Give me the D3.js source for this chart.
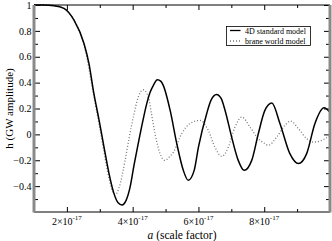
<!DOCTYPE html>
<meta charset="utf-8">
<style>
body { margin: 0; background: #fff; }
svg { display: block; font-family: "Liberation Serif", "DejaVu Serif", serif; }
.tick line { stroke: #000; }
</style>
<svg width="332" height="241"></svg>
<script src="https://cdn.jsdelivr.net/npm/d3@7"></script>
<script>
// 4D standard model (solid)
var aStd = [1.00e-17, 1.30e-17, 1.61e-17, 1.91e-17, 2.22e-17, 2.52e-17, 2.67e-17, 2.82e-17, 2.98e-17,
  3.13e-17, 3.28e-17, 3.43e-17, 3.55e-17, 3.68e-17, 3.80e-17, 3.92e-17, 4.04e-17, 4.17e-17, 4.30e-17,
  4.43e-17, 4.53e-17, 4.63e-17, 4.75e-17, 4.86e-17, 4.93e-17, 5.14e-17, 5.34e-17, 5.54e-17, 5.69e-17,
  5.87e-17, 6.00e-17, 6.25e-17, 6.38e-17, 6.55e-17, 6.69e-17, 6.81e-17, 7.01e-17, 7.21e-17, 7.39e-17,
  7.62e-17, 7.82e-17, 8.02e-17, 8.23e-17, 8.48e-17, 8.78e-17, 9.04e-17, 9.29e-17, 9.54e-17, 9.82e-17, 1.00e-16];
var hStd = [1.0, 1.0, 0.995, 0.974, 0.881, 0.703, 0.549, 0.317, 0.108,
  -0.100, -0.301, -0.456, -0.526, -0.545, -0.51, -0.410, -0.24, -0.070, 0.093,
  0.240, 0.325, 0.379, 0.423, 0.41, 0.379, 0.185, -0.070, -0.278, -0.355,
  -0.278, -0.098, 0.160, 0.263, 0.309, 0.278, 0.185, -0.021, -0.201, -0.278,
  -0.201, 0.005, 0.185, 0.242, 0.083, -0.149, -0.226, -0.149, 0.083, 0.206, 0.170];

// brane world model (dotted)
var aBrane = [1.00e-17, 1.30e-17, 1.61e-17, 1.91e-17, 2.22e-17, 2.52e-17, 2.82e-17, 2.98e-17, 3.13e-17,
  3.28e-17, 3.40e-17, 3.48e-17, 3.58e-17, 3.77e-17, 3.89e-17, 4.02e-17, 4.17e-17, 4.32e-17, 4.48e-17,
  4.57e-17, 4.68e-17, 4.83e-17, 4.98e-17, 5.10e-17, 5.24e-17, 5.49e-17, 5.74e-17, 6.05e-17, 6.30e-17,
  6.50e-17, 6.71e-17, 6.91e-17, 7.11e-17, 7.32e-17, 7.57e-17, 7.82e-17, 8.02e-17, 8.12e-17, 8.38e-17,
  8.63e-17, 8.80e-17, 9.04e-17, 9.29e-17, 9.49e-17, 9.75e-17, 1.00e-16];
var hBrane = [1.0, 1.0, 0.995, 0.974, 0.881, 0.695, 0.294, 0.077, -0.139,
  -0.340, -0.448, -0.464, -0.417, -0.201, -0.031, 0.134, 0.288, 0.345, 0.288,
  0.162, 0.005, -0.147, -0.201, -0.178, -0.137, 0.005, 0.083, 0.108, 0.031,
  -0.098, -0.170, -0.098, 0.056, 0.134, 0.056, -0.033, -0.072, -0.085, -0.021,
  0.070, 0.103, 0.044, -0.033, -0.060, -0.046, -0.008];

var xMajor = [2e-17, 4e-17, 6e-17, 8e-17];
var xLabels = ["2", "4", "6", "8"];
var xMinor = [3e-17, 5e-17, 7e-17, 9e-17];
var yMajor = [-0.4, -0.2, 0, 0.2, 0.4, 0.6, 0.8, 1];
var yMinor = [-0.5, -0.3, -0.1, 0.1, 0.3, 0.5, 0.7, 0.9];
var seriesNames = ["4D standard model", "brane world model"];

var svg = d3.select("svg");
var L = 34, R = 330, T = 5, B = 212;

var x = d3.scaleLinear().domain([1e-17, 1e-16]).range([L, R]);
var y = d3.scaleLinear().domain([-0.6, 1]).range([B, T]);

// ticks, inward on all four sides
function axes(g, axis) { g.call(axis).call(function(s){ s.select(".domain").remove(); }); }

svg.append("g").attr("transform", "translate(0," + B + ")")
  .call(function(g){ axes(g, d3.axisBottom(x).tickValues(xMajor).tickSize(-5).tickFormat("")); });
svg.append("g").attr("transform", "translate(0," + B + ")")
  .call(function(g){ axes(g, d3.axisBottom(x).tickValues(xMinor).tickSize(-3).tickFormat("")); });
svg.append("g").attr("transform", "translate(0," + T + ")")
  .call(function(g){ axes(g, d3.axisTop(x).tickValues(xMajor).tickSize(-5).tickFormat("")); });
svg.append("g").attr("transform", "translate(0," + T + ")")
  .call(function(g){ axes(g, d3.axisTop(x).tickValues(xMinor).tickSize(-3).tickFormat("")); });

svg.append("g").attr("transform", "translate(" + L + ",0)")
  .call(function(g){ axes(g, d3.axisLeft(y).tickValues(yMajor).tickSize(-6).tickPadding(2.5)
    .tickFormat(function(d){ return d3.format("")(+d.toFixed(1)); })); })
  .selectAll("text").attr("font-size", 10).attr("font-family", "Liberation Serif").attr("fill", "#000");
svg.append("g").attr("transform", "translate(" + L + ",0)")
  .call(function(g){ axes(g, d3.axisLeft(y).tickValues(yMinor).tickSize(-4).tickFormat("")); });
svg.append("g").attr("transform", "translate(" + R + ",0)")
  .call(function(g){ axes(g, d3.axisRight(y).tickValues(yMajor).tickSize(-6).tickFormat("")); });
svg.append("g").attr("transform", "translate(" + R + ",0)")
  .call(function(g){ axes(g, d3.axisRight(y).tickValues(yMinor).tickSize(-4).tickFormat("")); });

// x tick labels with powers of ten
var xl = svg.append("g").selectAll("text").data(xMajor).enter().append("text")
  .attr("x", function(d){ return x(d); }).attr("y", 225)
  .attr("text-anchor", "middle").attr("font-size", 10);
xl.append("tspan").text(function(d, i){ return xLabels[i] + "\u00d710"; });
xl.append("tspan").attr("dy", -5).attr("font-size", 7).text("-17");

// curves
var line = d3.line().curve(d3.curveMonotoneX)
  .x(function(d){ return x(d[0]); }).y(function(d){ return y(d[1]); });

svg.append("path").datum(d3.zip(aBrane, hBrane)).attr("d", line)
  .attr("fill", "none").attr("stroke", "#777").attr("stroke-width", 1.3).attr("stroke-dasharray", "1,2");
svg.append("path").datum(d3.zip(aStd, hStd)).attr("d", line)
  .attr("fill", "none").attr("stroke", "#000").attr("stroke-width", 1.5);

// frame
svg.append("line").attr("x1", L).attr("x2", R).attr("y1", T).attr("y2", T).attr("stroke", "#000");
svg.append("line").attr("x1", L).attr("x2", R).attr("y1", B).attr("y2", B).attr("stroke", "#000");
svg.append("line").attr("x1", L).attr("x2", L).attr("y1", T).attr("y2", B + 0.5).attr("stroke", "#8a8a8a").attr("stroke-width", 3);
svg.append("line").attr("x1", R).attr("x2", R).attr("y1", T).attr("y2", B + 0.5).attr("stroke", "#8a8a8a").attr("stroke-width", 3);

// legend
var lg = svg.append("g").attr("transform", "translate(226.5,26.5)");
lg.append("rect").attr("width", 84).attr("height", 19).attr("fill", "#fff").attr("stroke", "#000").attr("stroke-width", 0.8);
lg.append("line").attr("x1", 3.5).attr("x2", 14).attr("y1", 4).attr("y2", 4).attr("stroke", "#000").attr("stroke-width", 1.3);
lg.append("line").attr("x1", 3.5).attr("x2", 14).attr("y1", 14.5).attr("y2", 14.5)
  .attr("stroke", "#777").attr("stroke-width", 1.3).attr("stroke-dasharray", "1,2");
lg.selectAll("text").data(seriesNames).enter().append("text")
  .attr("x", 18.5).attr("y", function(d, i){ return 7 + i * 10.5; })
  .attr("font-size", 8).text(function(d){ return d; });

// axis titles
svg.append("text").attr("transform", "translate(13," + ((T + B) / 2) + ") rotate(-90)")
  .attr("text-anchor", "middle").attr("font-size", 11).text("h (GW amplitude)");
var xt = svg.append("text").attr("x", (L + R) / 2).attr("y", 238.5).attr("text-anchor", "middle").attr("font-size", 11.5);
xt.append("tspan").attr("font-style", "italic").text("a");
xt.append("tspan").text(" (scale factor)");
</script>
